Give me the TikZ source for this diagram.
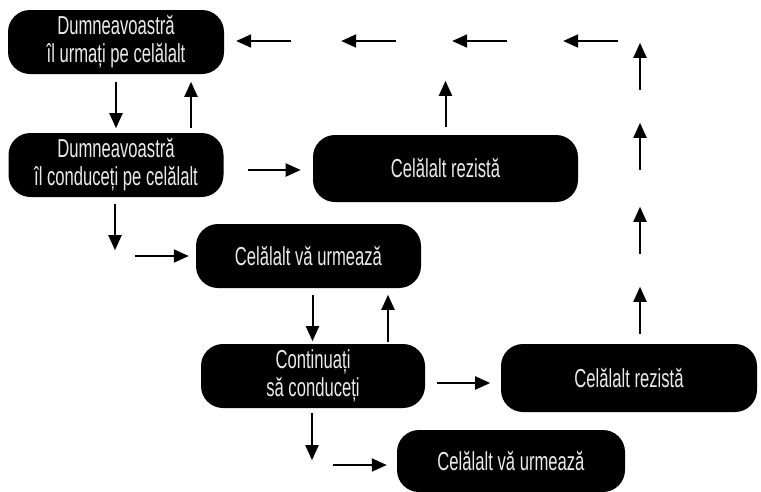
\documentclass[tikz,border=0pt]{standalone}
\usepackage{fontspec}
\setmainfont{Liberation Sans}[FakeStretch=0.64]
\usetikzlibrary{arrows.meta}
\tikzset{box/.style={fill=black,text=white!92!black,rounded corners=22pt,inner sep=0pt,align=center,font=\fontsize{26}{28}\selectfont},
arr/.style={line width=2pt,-{Triangle[length=15pt,width=13pt]}}}
\begin{document}
\begin{tikzpicture}[x=1pt,y=-1pt]
\useasboundingbox(0,0)rectangle(761,491);
\node[box,minimum width=216pt,minimum height=64pt](b1)at(116,42){Dumneavoastră\\îl urmați pe celălalt};
\node[box,minimum width=215pt,minimum height=64pt](b2)at(116,165){Dumneavoastră\\îl conduceți pe celălalt};
\node[box,minimum width=265pt,minimum height=67pt](b3)at(445.5,168.5){Celălalt rezistă};
\node[box,minimum width=225pt,minimum height=64pt](b4)at(308.5,256){Celălalt vă urmează};
\node[box,minimum width=224pt,minimum height=64pt](b5)at(313,376){Continuați\\să conduceți};
\node[box,minimum width=256pt,minimum height=68pt](b6)at(629,378){Celălalt rezistă};
\node[box,minimum width=228pt,minimum height=62pt](b7)at(511,461){Celălalt vă urmează};
\draw[arr](b1.south)++(0,8)--++(0,46);\draw[arr](b2.north)++(75,-5)--++(0,-46);
\draw[arr](b2.east)++(24,5)--++(53,0);\draw[arr](b3.north)++(0,-8)--++(0,-46);
\draw[arr](b2.south)++(-1,7)--++(0,46);\draw[arr](b4.west)++(-61,0)--++(54,0);
\draw[arr](b4.south)++(4,7)--++(0,46);\draw[arr](b5.north)++(75,-2)--++(0,-47);
\draw[arr](b5.east)++(12,7)--++(53,0);\draw[arr](b5.south)++(-1,5)--++(0,47);
\draw[arr](b7.west)++(-64,4)--++(54,0);
\foreach\d in{10,90,174,254}{\draw[arr](b6.north)++(11,-\d)--++(0,-47);}
\foreach\d in{67,172,283,394}{\draw[arr](b1.east)++(\d,-1)--++(-55,0);}
\end{tikzpicture}
\end{document}
